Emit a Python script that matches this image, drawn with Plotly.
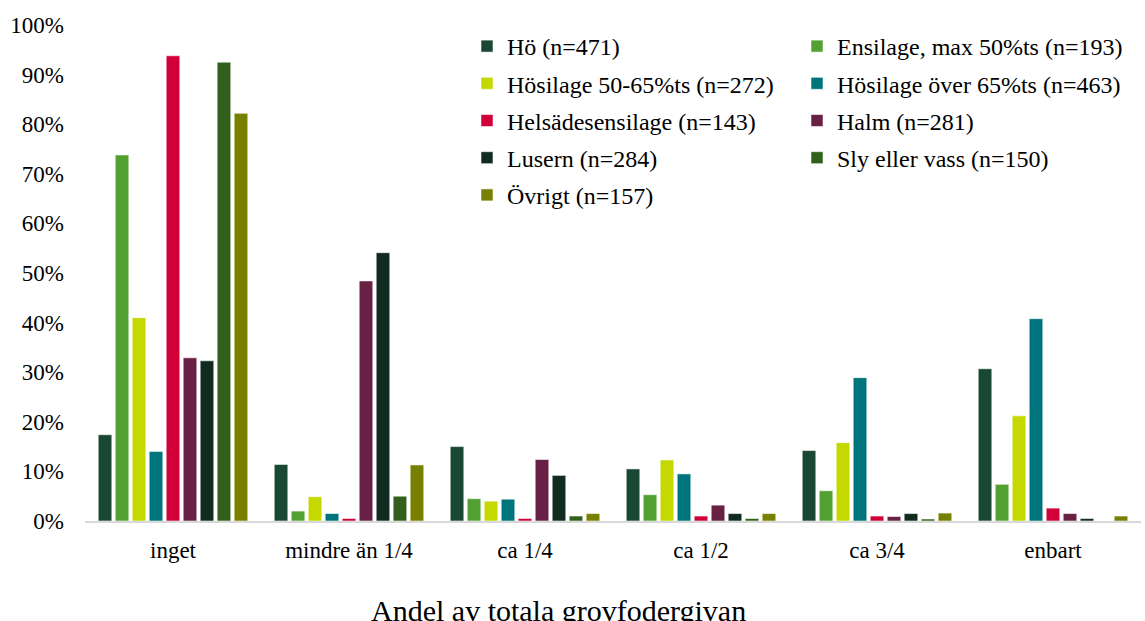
import plotly.graph_objects as go

categories = ["inget", "mindre än 1/4", "ca 1/4", "ca 1/2", "ca 3/4", "enbart"]

series_names = [
    "Hö (n=471)",
    "Ensilage, max 50%ts (n=193)",
    "Hösilage 50-65%ts (n=272)",
    "Hösilage över 65%ts (n=463)",
    "Helsädesensilage (n=143)",
    "Halm (n=281)",
    "Lusern (n=284)",
    "Sly eller vass (n=150)",
    "Övrigt (n=157)",
]

ho = [0.174, 0.114, 0.150, 0.105, 0.142, 0.307]
ensilage = [0.738, 0.020, 0.045, 0.053, 0.061, 0.074]
hosilage_50_65 = [0.410, 0.049, 0.040, 0.123, 0.158, 0.212]
hosilage_over_65 = [0.140, 0.015, 0.044, 0.095, 0.289, 0.408]
helsad = [0.938, 0.005, 0.005, 0.010, 0.010, 0.026]
halm = [0.329, 0.484, 0.124, 0.032, 0.009, 0.015]
lusern = [0.323, 0.541, 0.092, 0.015, 0.015, 0.005]
sly = [0.925, 0.050, 0.010, 0.005, 0.004, 0.0]
ovrigt = [0.822, 0.113, 0.015, 0.015, 0.016, 0.010]

values = [ho, ensilage, hosilage_50_65, hosilage_over_65, helsad, halm, lusern, sly, ovrigt]

colors = ["#194734", "#52a032", "#c5d800", "#00747c", "#d20038",
          "#682045", "#122b20", "#30601c", "#778000"]

legend_of = ["legend", "legend2", "legend", "legend2", "legend",
             "legend2", "legend", "legend2", "legend"]

fig = go.Figure()
for i, (name, vals, col) in enumerate(zip(series_names, values, colors)):
    fig.add_trace(go.Bar(
        x=categories, y=vals, name=name,
        marker=dict(color=col, line=dict(color="rgba(255,255,255,0.55)", width=1)),
        legend=legend_of[i], legendgroup=f"g{i}",
    ))

W, H = 1145, 621
L, R, T, B = 85, 4, 25, 100
pw = W - L - R
ph = H - T - B

def px_x(px):
    return (px - L) / pw

def px_y(py):
    return (H - B - py) / ph

font = "Liberation Serif, Times New Roman, serif"

fig.update_layout(
    width=W, height=H,
    margin=dict(l=L, r=R, t=T, b=B, autoexpand=False),
    plot_bgcolor="white", paper_bgcolor="white",
    barmode="group", bargap=0.131, bargroupgap=0.2,
    font=dict(family=font, size=23, color="#000000"),
    showlegend=True,
    legend=dict(x=px_x(467), y=px_y(24), xanchor="left", yanchor="top",
                orientation="v", tracegroupgap=3, bgcolor="rgba(0,0,0,0)",
                font=dict(family=font, size=24, color="#000000")),
    legend2=dict(x=px_x(797), y=px_y(24), xanchor="left", yanchor="top",
                 orientation="v", tracegroupgap=3, bgcolor="rgba(0,0,0,0)",
                 font=dict(family=font, size=24, color="#000000")),
    xaxis=dict(showline=True, linecolor="#d9d9d9", linewidth=2, ticks="",
               showgrid=False, ticklabelstandoff=7, automargin=False,
               tickfont=dict(family=font, size=23, color="#000000")),
    yaxis=dict(range=[0, 1], dtick=0.1, tickformat=".0%", showgrid=False,
               showline=False, zeroline=False, ticks="", ticklabelstandoff=20,
               automargin=False,
               tickfont=dict(family=font, size=23, color="#000000")),
    annotations=[dict(text="Andel av totala grovfodergivan", xref="paper", yref="paper",
                      x=px_x(558), y=px_y(610), xanchor="center", yanchor="middle",
                      showarrow=False, font=dict(family=font, size=30, color="#000000"))],
)

fig.write_html("out.html", config={"displayModeBar": False},
               post_script="document.body.style.margin='0';document.body.style.padding='0';")
